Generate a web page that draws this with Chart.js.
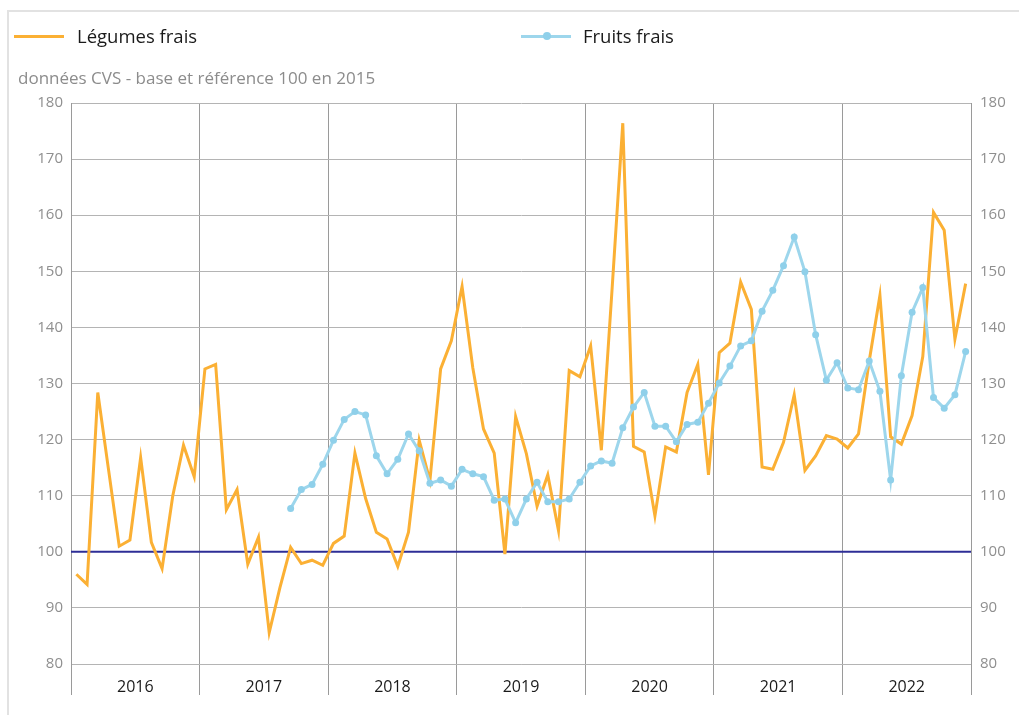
<!DOCTYPE html>
<html>
<head>
<meta charset="utf-8">
<script src="https://cdn.jsdelivr.net/npm/chart.js@4"></script>
<style>
  html, body { margin: 0; padding: 0; background: #fff; }
  body { width: 1019px; height: 715px; position: relative; overflow: hidden; font-family: "Open Sans", sans-serif; }
  #frame { position: absolute; left: 7px; top: 10px; width: 1030px; height: 720px; border-left: 2px solid #e2e2e2; border-top: 2px solid #e2e2e2; }
  #chart-wrap { position: absolute; left: 0; top: 0; width: 1019px; height: 715px; }
  .legend-item { position: absolute; top: 24px; font-size: 18.5px; color: #1a1a1a; line-height: 24px; }
  .legend-line { position: absolute; top: 11px; width: 50px; height: 3px; }
  .legend-dot { position: absolute; top: 8px; width: 8px; height: 8px; border-radius: 50%; }
  #subtitle { position: absolute; left: 18px; top: 66px; font-size: 17px; color: #8c8c8c; }
</style>
</head>
<body>
<div id="frame"></div>
<div id="chart-wrap"><canvas id="chart" width="1019" height="715"></canvas></div>
<div class="legend-item" style="left:14px;">
  <span class="legend-line" style="left:0; background:#fbb034;"></span>
  <span style="margin-left:63px;">Légumes frais</span>
</div>
<div class="legend-item" style="left:521px;">
  <span class="legend-line" style="left:0; background:#9dd6ec;"></span>
  <span class="legend-dot" style="left:22px; background:#8fd0ea;"></span>
  <span style="margin-left:62px;">Fruits frais</span>
</div>
<div id="subtitle">données CVS - base et référence 100 en 2015</div>

<script>
// ========================================
// DATA (monthly, Jan 2016 - Dec 2022)
// ========================================

const years = ['2016', '2017', '2018', '2019', '2020', '2021', '2022'];

const legumes = [
  96.0, 94.2, 128.4, 114.7, 101.0, 102.1, 116.8, 101.7, 97.0, 110.0, 119.0, 113.4,
  132.6, 133.4, 107.5, 111.1, 97.8, 102.6, 85.6, 93.6, 100.8, 97.9, 98.5, 97.6,
  101.5, 102.8, 117.6, 109.5, 103.5, 102.3, 97.4, 103.5, 119.9, 112.7, 132.6, 137.6,
  147.3, 132.8, 121.9, 117.6, 99.6, 124.1, 117.5, 108.1, 113.7, 103.8, 132.3, 131.2,
  136.7, 118.1, 146.8, 176.4, 118.8, 117.8, 106.4, 118.7, 117.8, 128.4, 133.4, 113.7,
  135.5, 137.2, 148.1, 143.2, 115.1, 114.7, 119.5, 128.0, 114.5, 117.1, 120.7, 120.1,
  118.5, 121.0, 134.0, 145.7, 120.5, 119.2, 124.3, 134.8, 160.5, 157.3, 137.9, 147.8
];

const fruits = [
  null, null, null, null, null, null, null, null, null, null, null, null,
  null, null, null, null, null, null, null, null, 107.7, 111.1, 112.0, 115.6,
  119.9, 123.6, 125.0, 124.4, 117.1, 113.9, 116.5, 121.0, 118.0, 112.2, 112.8, 111.7,
  114.7, 113.9, 113.4, 109.2, 109.4, 105.2, 109.4, 112.4, 108.9, 108.9, 109.4, 112.4,
  115.3, 116.2, 115.8, 122.1, 125.8, 128.4, 122.4, 122.4, 119.6, 122.7, 123.1, 126.5,
  130.1, 133.1, 136.7, 137.6, 142.9, 146.6, 151.0, 156.1, 149.9, 138.7, 130.6, 133.7,
  129.2, 128.9, 134.0, 128.6, 112.8, 131.4, 142.7, 147.1, 127.5, 125.6, 128.0, 135.7
];

const baseValue = 100;
const yMin = 80;
const yMax = 180;
const yStep = 10;

// ========================================
// BUILD CHART
// ========================================

const monthsPerYear = 12;
const nMonths = years.length * monthsPerYear;

// each month sits in the middle of its slot
function toPoints(values) {
  return values.map(function(v, i) { return { x: i + 0.5, y: v }; });
}

const gridColor = '#b4b4b4';
const axisColor = '#9a9a9a';

const ctx = document.getElementById('chart').getContext('2d');

new Chart(ctx, {
  type: 'line',
  data: {
    datasets: [
      {
        label: 'Base 100',
        data: [{ x: 0, y: baseValue }, { x: nMonths, y: baseValue }],
        borderColor: '#2e2e96',
        borderWidth: 2,
        pointRadius: 0,
        order: 3
      },
      {
        label: 'Légumes frais',
        data: toPoints(legumes),
        borderColor: '#fbb034',
        borderWidth: 3,
        pointRadius: 0,
        tension: 0,
        order: 2
      },
      {
        label: 'Fruits frais',
        data: toPoints(fruits),
        borderColor: '#9dd6ec',
        backgroundColor: '#8fd0ea',
        borderWidth: 3,
        pointRadius: 3.5,
        pointBorderWidth: 0,
        tension: 0,
        order: 1
      }
    ]
  },
  options: {
    responsive: false,
    animation: false,
    layout: { padding: { top: 103, left: 0, right: 0, bottom: 0 } },
    plugins: {
      legend: { display: false },
      tooltip: { enabled: false }
    },
    scales: {
      x: {
        type: 'linear',
        min: 0,
        max: nMonths,
        afterFit: function(scale) { scale.height = 51; },
        ticks: {
          stepSize: monthsPerYear / 2,
          autoSkip: false,
          maxRotation: 0,
          padding: -17,
          color: '#1a1a1a',
          font: { family: 'Open Sans', size: 16 },
          callback: function(value) {
            if (value % monthsPerYear === monthsPerYear / 2) {
              return years[Math.floor(value / monthsPerYear)];
            }
            return '';
          }
        },
        grid: {
          drawTicks: true,
          tickLength: 31,
          lineWidth: 1,
          color: function(c) {
            if (c.tick && c.tick.value % monthsPerYear === 0) return axisColor;
            return 'rgba(0,0,0,0)';
          }
        },
        border: { display: true, color: gridColor, width: 1 }
      },
      y: {
        position: 'left',
        min: yMin,
        max: yMax,
        afterFit: function(scale) { scale.width = 71; },
        ticks: {
          stepSize: yStep,
          padding: 8,
          color: '#8f8f8f',
          font: { family: 'Open Sans', size: 15 }
        },
        grid: {
          color: gridColor,
          lineWidth: 1,
          drawTicks: false
        },
        border: { display: true, color: axisColor, width: 1 }
      },
      y2: {
        position: 'right',
        min: yMin,
        max: yMax,
        afterFit: function(scale) { scale.width = 48; },
        ticks: {
          stepSize: yStep,
          padding: 9,
          color: '#8f8f8f',
          font: { family: 'Open Sans', size: 15 }
        },
        grid: { display: false, drawTicks: false },
        border: { display: true, color: axisColor, width: 1 }
      }
    }
  }
});
</script>
</body>
</html>
